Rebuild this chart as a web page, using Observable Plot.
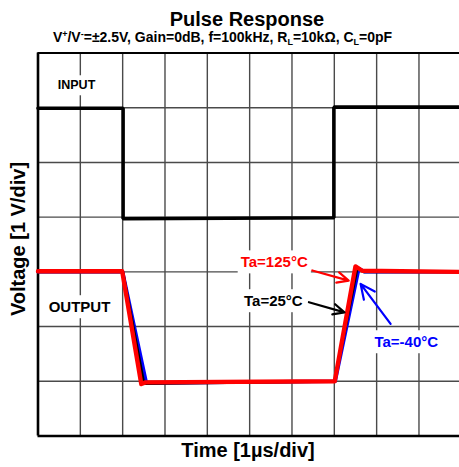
<!DOCTYPE html>
<html>
<head>
<meta charset="utf-8">
<script src="https://cdn.jsdelivr.net/npm/d3@7"></script>
<script src="https://cdn.jsdelivr.net/npm/@observablehq/plot@0.6"></script>
<style>
  html, body { margin: 0; padding: 0; background: #fff; }
  #chart { width: 459px; height: 467px; }
</style>
</head>
<body>
<div id="chart"></div>
<script>
// ---- Data (x in time divisions of 1 µs, y in voltage divisions of 1 V) ----
const inputT = [0, 2.01, 2.01, 6.99, 6.99, 10];
const inputV = [5.99, 5.99, 3.97, 3.99, 6.01, 6.01];

const out125T = [0, 1.99, 2.44, 2.54, 7.01, 7.50, 7.66, 10];
const out125V = [3.01, 3.01, 0.95, 0.98, 1.00, 3.10, 3.02, 3.00];

const out25T = [0, 2.0, 2.50, 7.01, 7.54, 7.70, 10];
const out25V = [3.0, 3.0, 0.96, 1.00, 3.08, 3.00, 3.00];

const outM40T = [0, 2.0, 2.56, 7.02, 7.58, 7.72, 10];
const outM40V = [3.0, 3.0, 0.97, 1.00, 3.06, 3.00, 3.00];

const xGrid = [1, 2, 3, 4, 5, 6, 7, 8, 9];
const yGrid = [1, 2, 3, 4, 5, 6];

const labelText = ["INPUT", "OUTPUT", "Ta=125°C", "Ta=25°C", "Ta=-40°C"];
const labelX = [0.91, 0.98, 5.58, 5.56, 8.70];
const labelY = [6.41, 2.35, 3.17, 2.46, 1.71];
const labelColor = ["black", "black", "red", "black", "blue"];
const labelSize = [12.5, 15, 15, 15, 15];

const arrowX1 = [6.48, 6.40, 8.33];
const arrowY1 = [3.025, 2.445, 2.05];
const arrowX2 = [7.34, 7.24, 7.62];
const arrowY2 = [2.84, 2.26, 2.78];
const arrowColor = ["red", "black", "blue"];

// ---- Tables ----
const toRows = (T, V) => T.map((t, i) => ({t, v: V[i]}));
const inputRows = toRows(inputT, inputV);
const r125 = toRows(out125T, out125V);
const r25 = toRows(out25T, out25V);
const rM40 = toRows(outM40T, outM40V);
const labels = labelText.map((s, i) => ({s, x: labelX[i], y: labelY[i], c: labelColor[i], fs: labelSize[i]}));
const arrows = arrowX1.map((x1, i) => ({x1, y1: arrowY1[i], x2: arrowX2[i], y2: arrowY2[i], c: arrowColor[i]}));

const FONT = "'Liberation Sans', Arial, Helvetica, sans-serif";

const chart = Plot.plot({
  width: 459,
  height: 467,
  marginLeft: 37.5,
  marginTop: 52.5,
  marginBottom: 31.5,
  marginRight: -1.8,
  x: {domain: [0, 10], axis: null},
  y: {domain: [0, 7], axis: null},
  style: {fontFamily: FONT, background: "white", overflow: "hidden"},
  marks: [
    Plot.ruleX(xGrid, {stroke: "#4a4a4a", strokeWidth: 1.4}),
    Plot.ruleY(yGrid, {stroke: "#4a4a4a", strokeWidth: 1.4}),
    Plot.ruleY([7], {stroke: "black", strokeWidth: 2}),
    Plot.ruleY([0], {stroke: "black", strokeWidth: 2.6}),
    Plot.ruleX([0], {stroke: "black", strokeWidth: 2.6}),
    ...labels.map(d => Plot.text([d], {
      x: "x", y: "y", text: "s", fill: "c", fontSize: d.fs,
      fontWeight: "bold", textAnchor: "middle", lineAnchor: "middle"
    })),
    Plot.line(inputRows, {x: "t", y: "v", stroke: "black", strokeWidth: 3.6, strokeLinejoin: "miter"}),
    Plot.line(rM40, {x: "t", y: "v", stroke: "#0000ff", strokeWidth: 3.5}),
    Plot.line(r25, {x: "t", y: "v", stroke: "black", strokeWidth: 3}),
    Plot.line(r125, {x: "t", y: "v", stroke: "#ff0000", strokeWidth: 4.4}),
    Plot.arrow(arrows, {x1: "x1", y1: "y1", x2: "x2", y2: "y2", stroke: "c", strokeWidth: 2.2, headLength: 11, headAngle: 50})
  ]
});

document.getElementById("chart").appendChild(chart);

// white boxes behind annotation labels
d3.select(chart).selectAll("g[aria-label='text'] text").each(function () {
  const bb = this.getBBox();
  const padX = 3, padY = 4;
  d3.select(this.parentNode).insert("rect", () => this)
    .attr("x", bb.x - padX).attr("y", bb.y - padY + 1)
    .attr("width", bb.width + 2 * padX).attr("height", bb.height + 2 * padY - 2)
    .attr("transform", this.getAttribute("transform"))
    .attr("fill", "white").attr("stroke", "none");
});

const svg = d3.select(chart);
// Title
svg.append("text").attr("x", 247).attr("y", 25.5).attr("text-anchor", "middle")
  .attr("font-family", FONT).attr("font-weight", "bold").attr("font-size", 20).attr("fill", "black")
  .text("Pulse Response");
// Subtitle with super/subscripts
const sub = svg.append("text").attr("x", 222.5).attr("y", 42.3).attr("text-anchor", "middle")
  .attr("font-family", FONT).attr("font-weight", "bold").attr("font-size", 14).attr("fill", "black");
const parts = [
  ["V", 0], ["+", 1], ["/V", 0], ["-", 1], ["=±2.5V, Gain=0dB, f=100kHz, R", 0], ["L", -1],
  ["=10kΩ, C", 0], ["L", -1], ["=0pF", 0]
];
parts.forEach(([t, k]) => {
  const ts = sub.append("tspan").text(t);
  if (k === 1) ts.attr("font-size", 9).attr("baseline-shift", "5");
  if (k === -1) ts.attr("font-size", 9).attr("baseline-shift", "-3");
});
// Axis labels
svg.append("text").attr("x", 248).attr("y", 457).attr("text-anchor", "middle")
  .attr("font-family", FONT).attr("font-weight", "bold").attr("font-size", 20).attr("fill", "black")
  .text("Time [1µs/div]");
svg.append("text").attr("transform", "translate(25,239) rotate(-90)").attr("text-anchor", "middle")
  .attr("font-family", FONT).attr("font-weight", "bold").attr("font-size", 20).attr("fill", "black")
  .text("Voltage [1 V/div]");
</script>
</body>
</html>
